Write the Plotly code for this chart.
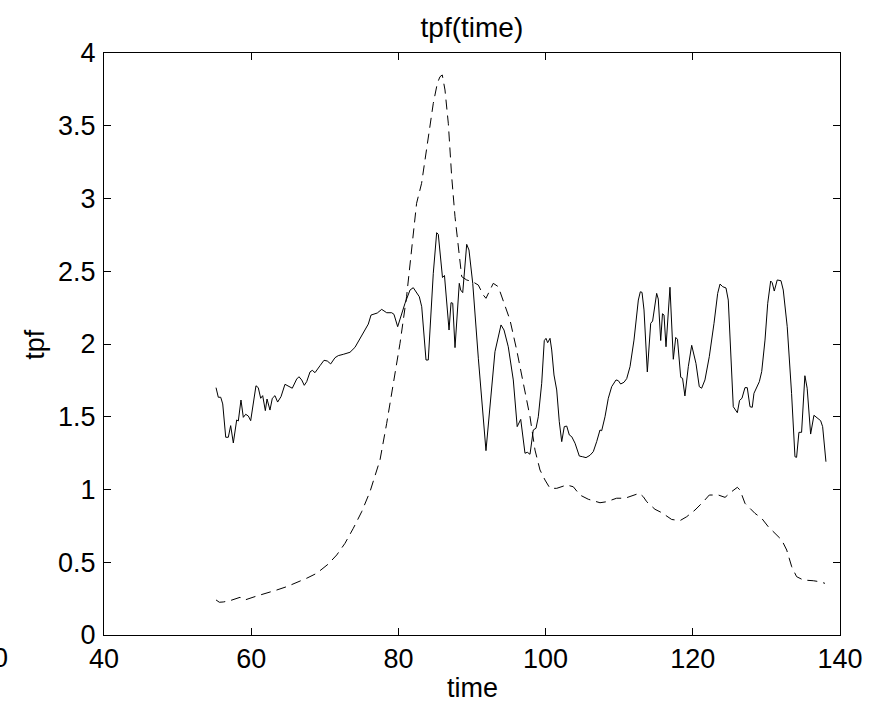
import plotly.graph_objects as go

# Solid series
t_solid = [55.22, 55.53, 55.86, 56.13, 56.54, 56.89, 57.21, 57.57, 58.03, 58.25,
           58.61, 58.93, 59.25, 59.61, 59.93, 60.65, 60.96, 61.29, 61.56, 61.92,
           62.15, 62.55, 62.87, 63.23, 63.59, 64.05, 64.59, 65.04, 65.58, 66.18,
           66.49, 66.86, 67.21, 67.54, 67.99, 68.30, 68.67, 69.35, 69.89, 70.34,
           70.80, 71.39, 71.83, 72.51, 73.42, 74.10, 75.01, 75.91, 76.28, 76.82,
           77.13, 77.73, 77.95, 78.41, 79.09, 79.40, 79.90, 80.90, 81.58, 82.02,
           82.84, 83.17, 83.75, 84.06, 84.74, 85.20, 85.42, 85.99, 86.26, 86.88,
           87.15, 87.38, 87.69, 88.27, 88.46, 88.74, 89.28, 89.59, 90.10, 90.86,
           91.90, 92.54, 93.12, 93.94, 94.35, 94.93, 95.61, 96.14, 96.62, 97.20,
           97.51, 97.88, 98.33, 98.70, 99.01, 99.47, 99.82, 100.05, 100.28, 100.60,
           100.83, 101.14, 101.51, 101.86, 102.19, 102.54, 102.87, 103.22, 103.55, 104.00,
           104.58, 105.04, 105.49, 106.03, 106.48, 106.94, 107.39, 107.62, 108.07, 108.52,
           108.98, 109.57, 109.88, 110.20, 110.65, 111.02, 111.47, 112.01, 112.60, 112.87,
           113.10, 113.37, 113.82, 114.28, 114.54, 115.09, 115.31, 115.64, 115.88, 116.09,
           116.36, 116.90, 117.35, 117.68, 117.92, 118.36, 118.61, 118.93, 119.39, 119.85,
           120.43, 120.88, 121.20, 121.65, 122.24, 122.88, 123.38, 123.70, 124.06, 124.51,
           124.82, 125.50, 126.05, 126.35, 126.68, 127.09, 127.40, 127.77, 128.08, 128.31,
           128.68, 129.04, 129.36, 129.81, 130.18, 130.58, 130.79, 131.07, 131.47, 131.98,
           132.29, 132.83, 133.42, 133.88, 134.10, 134.42, 134.78, 135.23, 135.54, 136.01,
           136.46, 136.91, 137.37, 137.64, 138.09]
tpf_solid = [1.700, 1.634, 1.634, 1.588, 1.359, 1.359, 1.439, 1.320, 1.478, 1.471,
             1.615, 1.496, 1.517, 1.505, 1.473, 1.713, 1.700, 1.627, 1.645, 1.542,
             1.622, 1.546, 1.627, 1.645, 1.601, 1.638, 1.723, 1.711, 1.696, 1.759,
             1.775, 1.753, 1.716, 1.741, 1.808, 1.819, 1.803, 1.851, 1.888, 1.883,
             1.863, 1.906, 1.920, 1.929, 1.943, 1.977, 2.055, 2.137, 2.199, 2.211,
             2.213, 2.238, 2.232, 2.215, 2.215, 2.204, 2.119, 2.280, 2.371, 2.387,
             2.325, 2.256, 1.890, 1.890, 2.486, 2.765, 2.754, 2.457, 2.471, 2.096,
             2.284, 2.280, 1.975, 2.417, 2.371, 2.353, 2.685, 2.646, 2.417, 1.902,
             1.267, 1.615, 1.947, 2.131, 2.096, 1.981, 1.753, 1.432, 1.482, 1.249,
             1.256, 1.242, 1.409, 1.421, 1.500, 1.730, 2.023, 2.039, 2.009, 2.039,
             1.959, 1.787, 1.684, 1.466, 1.329, 1.432, 1.436, 1.375, 1.363, 1.318,
             1.230, 1.225, 1.219, 1.235, 1.260, 1.329, 1.409, 1.404, 1.500, 1.627,
             1.707, 1.753, 1.748, 1.725, 1.737, 1.762, 1.844, 2.027, 2.302, 2.359,
             2.355, 2.234, 1.808, 2.142, 2.158, 2.348, 2.309, 2.024, 2.208, 2.199,
             1.981, 2.390, 1.895, 2.045, 2.032, 1.771, 1.764, 1.643, 1.844, 1.991,
             1.867, 1.707, 1.696, 1.753, 1.913, 2.142, 2.348, 2.412, 2.394, 2.385,
             2.302, 1.569, 1.528, 1.612, 1.627, 1.700, 1.700, 1.569, 1.565, 1.661,
             1.702, 1.741, 1.810, 2.027, 2.280, 2.433, 2.421, 2.364, 2.440, 2.435,
             2.371, 2.119, 1.661, 1.225, 1.221, 1.393, 1.393, 1.782, 1.696, 1.381,
             1.510, 1.489, 1.473, 1.432, 1.191]

# Dashed series
t_dashed = [55.22, 55.67, 56.20, 57.12, 58.48, 59.16, 60.75, 62.11, 63.46, 64.82,
            66.18, 67.54, 68.90, 70.48, 71.62, 72.74, 73.87, 75.01, 76.14, 77.05,
            77.50, 78.41, 79.31, 80.22, 81.11, 81.79, 82.47, 83.15, 83.84, 84.39,
            84.74, 85.29, 85.65, 85.96, 86.33, 86.78, 87.24, 87.69, 88.14, 88.60,
            89.28, 90.09, 90.86, 91.53, 91.90, 92.45, 92.89, 93.57, 94.25, 95.16,
            96.07, 96.97, 97.88, 98.56, 99.24, 99.92, 100.60, 101.51, 102.87, 103.76,
            104.67, 105.80, 107.39, 108.29, 109.65, 110.79, 111.92, 112.73, 113.28, 113.74,
            114.86, 115.77, 117.13, 118.26, 119.17, 120.30, 121.43, 122.24, 123.47, 124.38,
            125.27, 126.05, 126.41, 127.09, 128.45, 129.36, 130.26, 131.17, 132.08, 132.76,
            133.44, 134.10, 135.01, 136.37, 137.28, 137.96]
tpf_dashed = [0.241, 0.225, 0.227, 0.236, 0.259, 0.241, 0.268, 0.287, 0.309, 0.332,
              0.359, 0.390, 0.424, 0.488, 0.550, 0.630, 0.733, 0.847, 0.985, 1.134,
              1.203, 1.455, 1.730, 2.005, 2.325, 2.646, 2.967, 3.104, 3.333, 3.517,
              3.654, 3.792, 3.837, 3.849, 3.746, 3.517, 3.150, 2.875, 2.646, 2.463,
              2.440, 2.428, 2.405, 2.337, 2.314, 2.371, 2.417, 2.394, 2.291, 2.165,
              1.959, 1.730, 1.500, 1.271, 1.134, 1.065, 1.008, 1.008, 1.031, 1.019,
              0.962, 0.933, 0.909, 0.916, 0.940, 0.940, 0.962, 0.974, 0.950, 0.916,
              0.864, 0.841, 0.794, 0.786, 0.813, 0.859, 0.916, 0.962, 0.962, 0.946,
              0.985, 1.015, 0.997, 0.905, 0.836, 0.802, 0.744, 0.699, 0.653, 0.584,
              0.469, 0.401, 0.378, 0.373, 0.366, 0.355]

x_ticks = [40, 60, 80, 100, 120, 140]
y_ticks = [0, 0.5, 1, 1.5, 2, 2.5, 3, 3.5, 4]
y_tick_text = ["0", "0.5", "1", "1.5", "2", "2.5", "3", "3.5", "4"]

FONT = "Liberation Sans, Arial, Helvetica, sans-serif"
TICK_SIZE = 27
LABEL_SIZE = 27
TITLE_SIZE = 28

fig = go.Figure()
fig.add_trace(go.Scatter(x=t_solid, y=tpf_solid, mode="lines",
                         line=dict(color="black", width=1), showlegend=False))
fig.add_trace(go.Scatter(x=t_dashed, y=tpf_dashed, mode="lines",
                         line=dict(color="black", width=1, dash="10px,6px"), showlegend=False))

axis_common = dict(showgrid=False, zeroline=False, showline=True, linecolor="black",
                   linewidth=1, mirror="ticks", ticks="inside", ticklen=7,
                   tickcolor="black", tickwidth=1,
                   tickfont=dict(family=FONT, size=TICK_SIZE, color="black"))

fig.update_xaxes(range=[40, 140], tickvals=x_ticks, ticktext=[str(v) for v in x_ticks],
                 **axis_common)
fig.update_yaxes(range=[0, 4], tickvals=y_ticks, ticktext=y_tick_text, ticklabelstandoff=2,
                 **axis_common)

# axis titles
fig.add_annotation(text="time", xref="paper", yref="paper", x=0.5, y=-0.091,
                   xanchor="center", yanchor="middle", showarrow=False,
                   font=dict(family=FONT, size=LABEL_SIZE, color="black"))
fig.add_annotation(text="tpf", xref="paper", yref="paper", x=-0.094, y=0.5,
                   xanchor="center", yanchor="middle", showarrow=False, textangle=-90,
                   font=dict(family=FONT, size=LABEL_SIZE, color="black"))
# stray clipped label at the far left
fig.add_annotation(text="0", xref="paper", yref="paper", x=-0.1413, y=0,
                   xanchor="center", yanchor="top", yshift=-6, showarrow=False,
                   font=dict(family=FONT, size=TICK_SIZE, color="black"))

fig.update_layout(
    width=880, height=703,
    margin=dict(l=104, r=40, t=53, b=68),
    paper_bgcolor="white", plot_bgcolor="white",
    title=dict(text="tpf(time)", x=0.5363, xanchor="center", y=0.962, yanchor="middle",
               font=dict(family=FONT, size=TITLE_SIZE, color="black")),
    font=dict(family=FONT, color="black"),
)

fig.write_html("out.html")
